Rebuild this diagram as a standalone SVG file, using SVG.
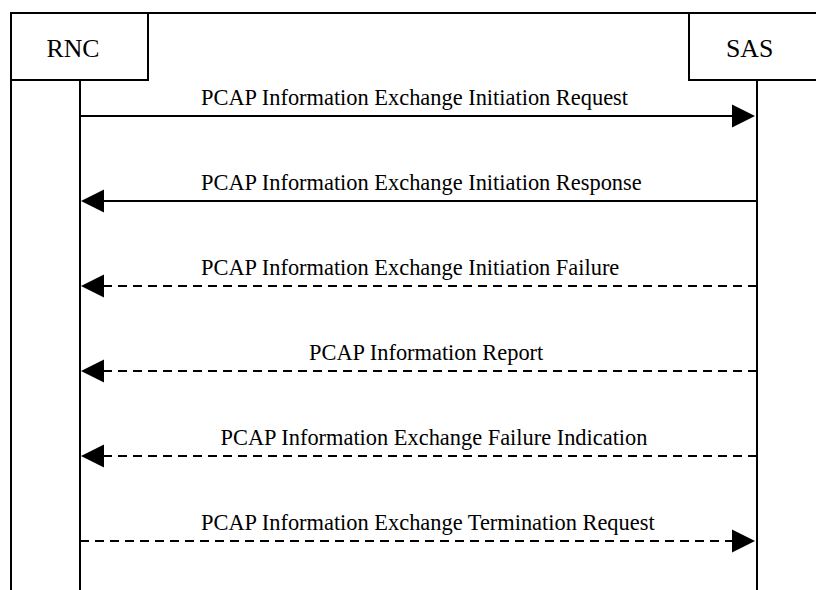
<svg xmlns="http://www.w3.org/2000/svg" width="816" height="590" viewBox="0 0 816 590">
<style>
.box{fill:#fff;stroke:#000;stroke-width:2}
.life{stroke:#000;stroke-width:2;fill:none}
.msg{stroke:#000;stroke-width:1.8;fill:none}
.dash{stroke-dasharray:9,6}
.lbl{font-size:22.4px}
.nm{font-size:25.8px}
.head{fill:#000}
</style>
<rect x="0" y="0" width="816" height="590" fill="#fff"/>
<g id="frame">
<path class="life" d="M11,590 L11,13 L820,13"/>
</g>
<g font-family="'Liberation Serif', 'Times New Roman', Times, serif" fill="#000">
<g id="rnc">
<rect class="box" x="11" y="13" width="137" height="67"/>
<text class="nm" x="46.5" y="57">RNC</text>
<line class="life" x1="80" y1="80" x2="80" y2="590"/>
</g>
<g id="sas">
<rect class="box" x="689" y="13" width="140" height="67"/>
<text class="nm" x="726" y="57">SAS</text>
<line class="life" x1="757" y1="80" x2="757" y2="590"/>
</g>
<g id="connectors">
<line class="msg" x1="80" y1="116" x2="734" y2="116"/>
<polygon class="head" points="732,104.5 755,116 732,127.5"/>
<line class="msg" x1="757" y1="201" x2="102" y2="201"/>
<polygon class="head" points="104,189.5 81,201 104,212.5"/>
<line class="msg dash" x1="757" y1="286" x2="102" y2="286"/>
<polygon class="head" points="104,274.5 81,286 104,297.5"/>
<line class="msg dash" x1="757" y1="371" x2="102" y2="371"/>
<polygon class="head" points="104,359.5 81,371 104,382.5"/>
<line class="msg dash" x1="757" y1="456" x2="102" y2="456"/>
<polygon class="head" points="104,444.5 81,456 104,467.5"/>
<line class="msg dash" x1="80" y1="541" x2="734" y2="541"/>
<polygon class="head" points="732,529.5 755,541 732,552.5"/>
</g>
<g id="labels">
<text class="lbl" x="201" y="105">PCAP Information Exchange Initiation Request</text>
<text class="lbl" x="201" y="190">PCAP Information Exchange Initiation Response</text>
<text class="lbl" x="201" y="275">PCAP Information Exchange Initiation Failure</text>
<text class="lbl" x="309" y="360">PCAP Information Report</text>
<text class="lbl" x="220.5" y="445">PCAP Information Exchange Failure Indication</text>
<text class="lbl" x="201" y="530">PCAP Information Exchange Termination Request</text>
</g>
</g>
</svg>
